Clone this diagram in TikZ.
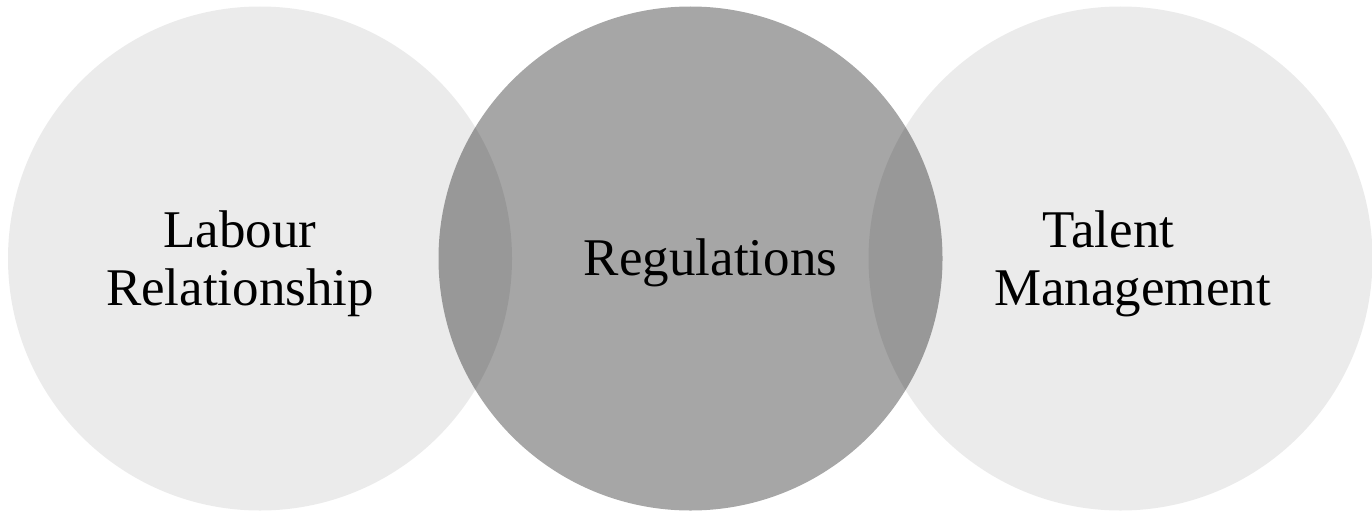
\documentclass[tikz,border=0pt]{standalone}
\usepackage{fontspec}
\setmainfont{Liberation Serif}
\begin{document}
\begin{tikzpicture}[x=1pt,y=-1pt,
  lightcircle/.style={circle,inner sep=0pt,minimum size=504pt,fill=lightgray235},
  darkcircle/.style={circle,inner sep=0pt,minimum size=504pt,fill=black,fill opacity=0.35},
  lbl/.style={anchor=base,inner sep=0pt,text=black,font=\fontsize{53}{58}\selectfont}]
\definecolor{lightgray235}{RGB}{235,235,235}
\useasboundingbox (0,0) rectangle (1372,511);
\node[lightcircle] (L) at (260,258.5) {};
\node[lightcircle] (R) at (1120.5,258.5) {};
\node[darkcircle] (M) at (690.5,258.5) {};
\node[lbl] (l1) at (240,247) {Labour};
\node[lbl] (l2) at (240,305) {Relationship};
\node[lbl] (m1) at (710.5,275) {Regulations};
\node[lbl] (r1) at (1108.5,247) {Talent};
\node[lbl] (r2) at (1132.5,305) {Management};
\end{tikzpicture}
\end{document}
